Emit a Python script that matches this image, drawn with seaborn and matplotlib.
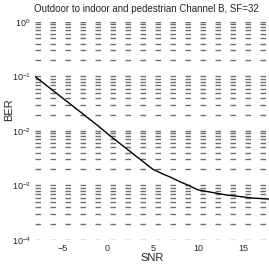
"""BER vs SNR curve, outdoor to indoor and pedestrian channel B, SF=32."""

import matplotlib
matplotlib.use("Agg")
import matplotlib.pyplot as plt
import matplotlib.ticker as mticker
import numpy as np
import pandas as pd
import seaborn as sns

# data (log10 of BER per SNR step)
snr_db = [-8, -7, -6, -5, -4, -3, -2, -1, 0, 1, 2, 3, 4, 5,
          6, 7, 8, 9, 10, 11, 12, 13, 14, 15, 16, 17, 18]
log_ber = [-1.00, -1.13, -1.26, -1.39, -1.52, -1.65, -1.78, -1.91, -2.05,
           -2.18, -2.31, -2.44, -2.57, -2.70, -2.78, -2.85, -2.93, -3.00,
           -3.08, -3.11, -3.14, -3.17, -3.19, -3.21, -3.23, -3.24, -3.25]
x_ticks = [-5, 0, 5, 10, 15]
y_decades = [1e-4, 1e-3, 1e-2, 1e-1, 1e0]

df = pd.DataFrame({"SNR": snr_db, "BER": np.power(10.0, log_ber)})

sns.set_style("white")
plt.rcParams["font.family"] = ["Liberation Sans", "DejaVu Sans"]
plt.rcParams["mathtext.fontset"] = "custom"
plt.rcParams["mathtext.rm"] = "Liberation Sans"

fig = plt.figure(figsize=(2.69, 2.67), dpi=100)
ax = fig.add_axes([0.13, 0.101, 0.875, 0.817])

sns.lineplot(data=df, x="SNR", y="BER", color="black", linewidth=1.0, ax=ax)

ax.set_yscale("log")
ax.set_ylim(1e-4, 1e0)
ax.set_xlim(-8, 18)
ax.set_xticks(x_ticks)
ax.set_yticks(y_decades)
ax.yaxis.set_major_formatter(mticker.LogFormatterMathtext())
ax.yaxis.set_minor_locator(mticker.LogLocator(base=10, subs=np.arange(2, 10)))
ax.yaxis.set_minor_formatter(mticker.NullFormatter())

# broken-looking horizontal grid, no frame
grid_style = dict(color="#333333", linewidth=1.0, linestyle=(0, (4.0, 6.8)), alpha=0.7)
ax.grid(True, axis="y", which="major", **grid_style)
ax.grid(True, axis="y", which="minor", **grid_style)
ax.grid(False, axis="x")
for side in ax.spines.values():
    side.set_visible(False)

ax.tick_params(axis="both", which="both", length=0, labelsize=6.5, pad=3)
ax.set_xlabel("SNR", fontsize=8, labelpad=0)
ax.set_ylabel("BER", fontsize=8, labelpad=1)
ax.yaxis.set_label_coords(-0.09, 0.6)
fig.text(0.545, 0.965, "Outdoor to indoor and pedestrian Channel B, SF=32",
         ha="center", va="center", fontsize=7)

fig.savefig("out.png", dpi=100)
plt.close(fig)
